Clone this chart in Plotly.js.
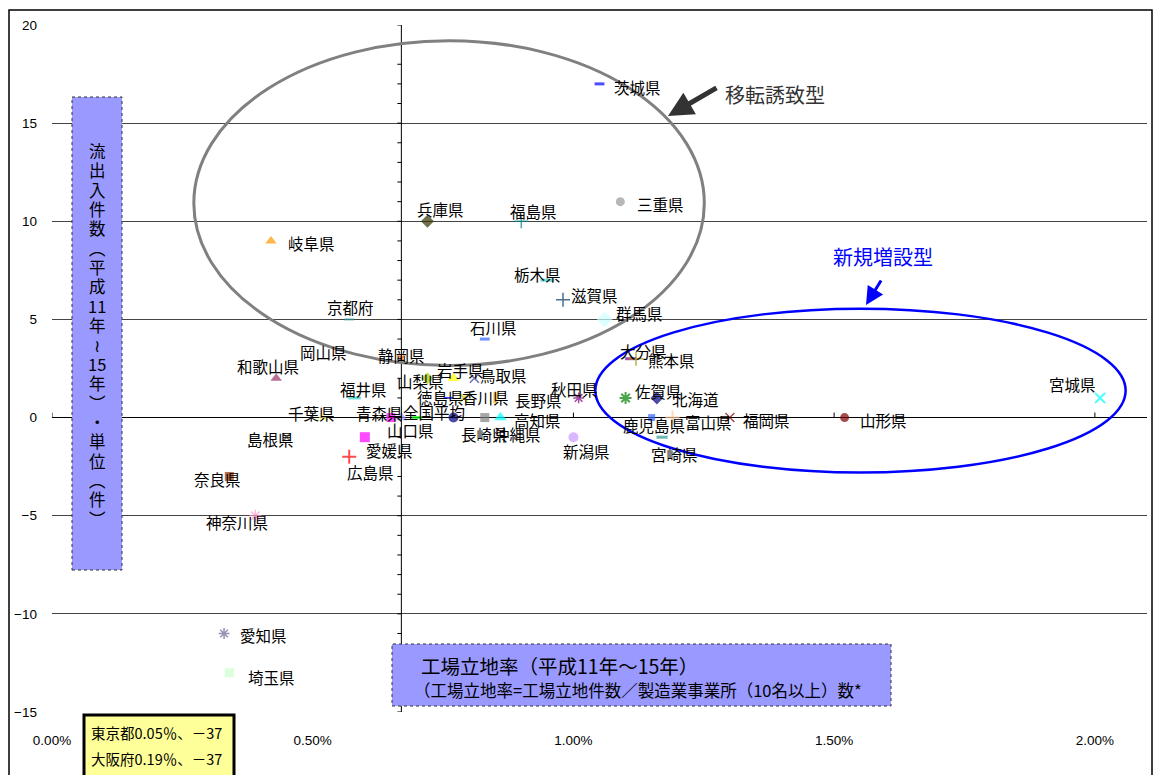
<!DOCTYPE html>
<html>
<head>
<meta charset="utf-8">
<script src="https://cdn.plot.ly/plotly-3.0.1.min.js"></script>
<style>
  html, body { margin: 0; padding: 0; background: #ffffff; }
  #chart { width: 1157px; height: 775px; }
</style>
</head>
<body>
<div id="chart"></div>
<script>
// 都道府県別 工場立地率(%) と 流出入件数(件)  平成11年～15年
const prefectures = [
  '茨城県', '三重県', '兵庫県', '福島県', '岐阜県', '栃木県', '滋賀県', '群馬県',
  '京都府', '石川県', '大分県', '熊本県', '岡山県', '静岡県', '和歌山県', '山梨県',
  '岩手県', '鳥取県', '福井県', '徳島県', '香川県', '長野県', '秋田県', '佐賀県',
  '北海道', '宮城県', '千葉県', '青森県', '全国平均', '山口県', '長崎県', '沖縄県',
  '高知県', '新潟県', '鹿児島県', '富山県', '福岡県', '山形県', '宮崎県', '愛媛県',
  '島根県', '広島県', '奈良県', '神奈川県', '愛知県', '埼玉県', '東京都', '大阪府'
];
// 工場立地率 (%)
const siteRate = [
  1.05, 1.09, 0.72, 0.90, 0.42, 0.95, 0.98, 1.06,
  0.57, 0.83, 1.11, 1.12, 0.52, 0.67, 0.43, 0.72,
  0.77, 0.81, 0.58, 0.76, 0.79, 0.85, 1.01, 1.10,
  1.16, 2.01, 0.52, 0.65, 0.67, 0.70, 0.77, 0.83,
  0.86, 1.00, 1.15, 1.19, 1.30, 1.52, 1.17, 0.60,
  0.45, 0.57, 0.34, 0.39, 0.33, 0.34, 0.05, 0.19
];
// 流出入件数 (件)
const netFlow = [
  17, 11, 10, 10, 9, 7, 6, 5,
  5, 4, 3, 3, 3, 3, 2, 2,
  2, 2, 1, 1, 1, 1, 1, 1,
  1, 1, 0, 0, 0, 0, 0, 0,
  0, -1, 0, 0, 0, 0, -1, -1,
  -1, -2, -3, -5, -11, -13, -37, -37
];
// 範囲外の二都府は注記ボックスに記載
const offChart = ['東京都', '大阪府'];
const averageName = '全国平均';

const yTicks = [-15, -10, -5, 0, 5, 10, 15, 20];
const xTicks = [0, 0.5, 1.0, 1.5, 2.0];
const xTickText = xTicks.map(t => t.toFixed(2) + '%');

// marker style: [symbol, color, size, line width]
const markerStyle = {
  '茨城県': ['line-ew', '#0000ff', 7, 3],
  '三重県': ['circle', '#999999', 9, 0],
  '兵庫県': ['diamond', '#333300', 10, 0],
  '福島県': ['cross-thin', '#008080', 10, 1.5],
  '岐阜県': ['triangle-up', '#ff9900', 10, 0],
  '栃木県': ['line-ew', '#33cccc', 10, 3],
  '滋賀県': ['cross-thin', '#003366', 10, 1.5],
  '群馬県': ['diamond', '#ccffff', 12, 0],
  '京都府': ['line-ew', '#339999', 7, 2],
  '石川県': ['line-ew', '#3366ff', 7, 3],
  '大分県': ['line-ew', '#800080', 8, 3],
  '熊本県': ['cross-thin', '#999900', 10, 1.5],
  '岡山県': ['circle', '#ffffff', 6, 0],
  '静岡県': ['x-thin', '#ff6600', 8, 2],
  '和歌山県': ['triangle-up', '#993366', 10, 0],
  '山梨県': ['diamond', '#99cc00', 9, 0],
  '岩手県': ['triangle-up', '#ffff00', 11, 0],
  '鳥取県': ['x-thin', '#333399', 9, 1.5],
  '福井県': ['line-ew', '#33cccc', 9, 3],
  '徳島県': ['line-ew', '#0000ff', 7, 2],
  '香川県': ['x-thin', '#c8c800', 8, 2],
  '長野県': ['line-ns', '#ffcc00', 8, 4],
  '秋田県': ['asterisk', '#800080', 9, 1.5],
  '佐賀県': ['asterisk', '#008000', 10, 2],
  '北海道': ['diamond', '#000080', 10, 0],
  '宮城県': ['x-thin', '#00ffff', 10, 2],
  '千葉県': ['triangle-up', '#ffff99', 11, 0],
  '青森県': ['square', '#ff00ff', 9, 0],
  '全国平均': ['triangle-up', '#9999ff', 11, 0],
  '山口県': ['line-ew', '#00ff00', 7, 3],
  '長崎県': ['circle', '#000080', 10, 0],
  '沖縄県': ['square', '#808080', 9, 0],
  '高知県': ['triangle-up', '#00ffff', 11, 0],
  '新潟県': ['circle', '#cc99ff', 10, 0],
  '鹿児島県': ['square', '#3366ff', 7, 0],
  '富山県': ['cross-thin', '#ffcc99', 10, 2],
  '福岡県': ['x-thin', '#800000', 9, 1.5],
  '山形県': ['circle', '#800000', 9, 0],
  '宮崎県': ['line-ew', '#339999', 8, 3],
  '愛媛県': ['square', '#ff00ff', 10, 0],
  '島根県': ['x-thin', '#333333', 8, 1.5],
  '広島県': ['cross-thin', '#ff0000', 10, 2],
  '奈良県': ['square', '#993300', 9, 0],
  '神奈川県': ['asterisk', '#ff99cc', 10, 1.5],
  '愛知県': ['asterisk', '#666699', 9, 1.5],
  '埼玉県': ['square', '#ccffcc', 9, 0],
  '東京都': ['square', '#000000', 8, 0],
  '大阪府': ['square', '#000000', 8, 0]
};

// data label offset from its point, pixels [right, down]
const labelOffset = {
  '茨城県': [38, 3], '三重県': [40, 2], '兵庫県': [13, -12], '福島県': [12, -10],
  '岐阜県': [40, 2], '栃木県': [-10, -6], '滋賀県': [31, -5], '群馬県': [35, -6],
  '京都府': [1, -12], '石川県': [9, -12], '大分県': [13, -8], '熊本県': [35, 1],
  '岡山県': [0, -7], '静岡県': [0, -4], '和歌山県': [-8, -12], '山梨県': [-7, 3],
  '岩手県': [7, -8], '鳥取県': [29, -3], '福井県': [9, -9], '徳島県': [-8, -1],
  '香川県': [22, -1], '長野県': [43, 2], '秋田県': [-4, -9], '佐賀県': [33, -7],
  '北海道': [39, 1], '宮城県': [-28, -14], '千葉県': [-12, -5], '青森県': [-11, -5],
  '全国平均': [33, -6], '山口県': [-7, 12], '長崎県': [31, 16], '沖縄県': [33, 16],
  '高知県': [37, 2], '新潟県': [13, 14], '鹿児島県': [2, 7], '富山県': [36, 4],
  '福岡県': [37, 2], '山形県': [39, 2], '宮崎県': [12, 17], '愛媛県': [25, 13],
  '島根県': [-16, 2], '広島県': [21, 15], '奈良県': [-12, 3], '神奈川県': [-18, 6],
  '愛知県': [39, 2], '埼玉県': [42, 4]
};

// ---- page geometry helpers (pixels -> paper fractions) ----
const W = 1157, H = 775;
const M = { l: 52, r: 10, t: 25, b: 63 };
const plotW = W - M.l - M.r, plotH = H - M.t - M.b;
const px = v => (v - M.l) / plotW;
const py = v => (H - M.b - v) / plotH;

const JP = '"Noto Sans CJK JP", "Noto Sans", sans-serif';
const NUM = 'Arial, "Liberation Sans", sans-serif';

// ---- scatter trace ----
const sym = prefectures.map(n => markerStyle[n][0]);
const col = prefectures.map(n => markerStyle[n][1]);
const siz = prefectures.map(n => markerStyle[n][2]);
const lw = prefectures.map(n => markerStyle[n][3]);

const trace = {
  type: 'scatter',
  mode: 'markers',
  x: siteRate,
  y: netFlow,
  text: prefectures,
  cliponaxis: true,
  hoverinfo: 'text+x+y',
  marker: {
    symbol: sym,
    color: col,
    size: siz,
    line: { color: col, width: lw }
  },
  showlegend: false
};

// ---- data labels ----
const annotations = [];
prefectures.forEach((name, i) => {
  if (offChart.includes(name)) return;
  const off = labelOffset[name] || [30, 0];
  annotations.push({
    xref: 'x', yref: 'y', x: siteRate[i], y: netFlow[i],
    text: name, showarrow: false,
    xshift: off[0], yshift: -off[1],
    xanchor: 'center', yanchor: 'middle',
    font: { family: JP, size: 15.5, color: '#000000' }
  });
});

// vertical axis crosses at the national average rate
const avgIdx = prefectures.indexOf(averageName);
const axisCross = siteRate[avgIdx];

const shapes = [];

// outer chart frame
shapes.push({ type: 'rect', xref: 'paper', yref: 'paper', x0: px(9), x1: px(1152), y0: py(10), y1: py(800),
  line: { color: '#000000', width: 1.5 }, fillcolor: 'rgba(0,0,0,0)', layer: 'below' });

// vertical axis line and its ticks
shapes.push({ type: 'line', xref: 'x', yref: 'paper', x0: axisCross, x1: axisCross, y0: 0, y1: 1,
  line: { color: '#000000', width: 1 }, layer: 'above' });
for (let v = yTicks[0]; v <= yTicks[yTicks.length - 1]; v++) {
  shapes.push({ type: 'line', xref: 'x', yref: 'y', xsizemode: 'pixel', xanchor: axisCross,
    x0: -4, x1: 0, y0: v, y1: v, line: { color: '#000000', width: 1 } });
}
// ticks on the horizontal axis (y = 0)
xTicks.forEach(t => {
  shapes.push({ type: 'line', xref: 'x', yref: 'y', ysizemode: 'pixel', yanchor: 0,
    x0: t, x1: t, y0: 0, y1: 5, line: { color: '#000000', width: 1 } });
});

// grouping ellipses
shapes.push({ type: 'circle', xref: 'x', yref: 'y', x0: 0.272, x1: 1.251, y0: 2.65, y1: 19.2,
  line: { color: '#808080', width: 3 }, fillcolor: 'rgba(0,0,0,0)', layer: 'above' });
shapes.push({ type: 'circle', xref: 'x', yref: 'y', x0: 1.042, x1: 2.059, y0: -2.8, y1: 5.55,
  line: { color: '#0000ff', width: 2.5 }, fillcolor: 'rgba(0,0,0,0)', layer: 'above' });

// axis title boxes
shapes.push({ type: 'rect', xref: 'paper', yref: 'paper', x0: px(72), x1: px(122), y0: py(570), y1: py(97),
  fillcolor: '#9999ff', line: { color: '#333333', width: 1, dash: 'dot' }, layer: 'above' });
shapes.push({ type: 'rect', xref: 'paper', yref: 'paper', x0: px(392), x1: px(891), y0: py(706), y1: py(644),
  fillcolor: '#9999ff', line: { color: '#333333', width: 1, dash: 'dot' }, layer: 'above' });
// note box for off-range prefectures
shapes.push({ type: 'rect', xref: 'paper', yref: 'paper', x0: px(84), x1: px(234), y0: py(790), y1: py(715),
  fillcolor: '#ffff99', line: { color: '#000000', width: 3 }, layer: 'above' });

// vertical y-axis title, one glyph per row
const yTitleGlyphs = ['流', '出', '入', '件', '数', '︵', '平', '成', '11', '年', '≀', '15', '年', '︶', '・', '単', '位', '︵', '件', '︶'];
yTitleGlyphs.forEach((g, i) => {
  annotations.push({
    xref: 'paper', yref: 'paper', x: px(97), y: py(151 + i * 19.35),
    text: g, showarrow: false, xanchor: 'center', yanchor: 'middle',
    font: { family: JP, size: 16.5, color: '#000000' }
  });
});

// x-axis title
annotations.push({
  xref: 'paper', yref: 'paper', x: px(419), y: py(665), xanchor: 'left', yanchor: 'middle',
  text: '工場立地率（平成11年～15年）', showarrow: false,
  font: { family: JP, size: 19.5, color: '#000000' }
});
annotations.push({
  xref: 'paper', yref: 'paper', x: px(412), y: py(690), xanchor: 'left', yanchor: 'middle',
  text: '（工場立地率=工場立地件数／製造業事業所（10名以上）数*', showarrow: false,
  font: { family: JP, size: 16.5, color: '#000000' }
});

// note box text for prefectures outside the plotted range
offChart.forEach((name, k) => {
  const i = prefectures.indexOf(name);
  const v = netFlow[i];
  annotations.push({
    xref: 'paper', yref: 'paper', x: px(89), y: py(732 + k * 27), xanchor: 'left', yanchor: 'middle',
    text: name + siteRate[i].toFixed(2) + '％、' + (v < 0 ? '－' : '') + Math.abs(v), showarrow: false,
    font: { family: JP, size: 14.5, color: '#000000' }
  });
});

// group captions with arrows
annotations.push({
  xref: 'paper', yref: 'paper', x: px(775), y: py(78), text: '移転誘致型', showarrow: false,
  font: { family: JP, size: 20, color: '#333333' }
});
annotations.push({
  xref: 'paper', yref: 'paper', x: px(668), y: py(116), ax: 50, ay: -29, text: '',
  showarrow: true, arrowhead: 2, arrowsize: 1, arrowwidth: 5, arrowcolor: '#333333'
});
annotations.push({
  xref: 'paper', yref: 'paper', x: px(935), y: py(256), text: '新規増設型', showarrow: false,
  font: { family: JP, size: 20, color: '#0000ff' }
});
annotations.push({
  xref: 'paper', yref: 'paper', x: px(866), y: py(305), ax: 16, ay: -26, text: '',
  showarrow: true, arrowhead: 2, arrowsize: 1.2, arrowwidth: 3, arrowcolor: '#0000ff'
});

const layout = {
  width: W, height: H,
  margin: M,
  paper_bgcolor: '#ffffff',
  plot_bgcolor: '#ffffff',
  showlegend: false,
  xaxis: {
    range: [0, 2.1],
    tickmode: 'array',
    tickvals: xTicks,
    ticktext: xTickText,
    showgrid: false,
    zeroline: false,
    showline: false,
    ticks: '',
    ticklabelstandoff: 18,
    tickfont: { family: NUM, size: 13.5, color: '#000000' },
    fixedrange: true
  },
  yaxis: {
    range: [-15, 20],
    tickvals: yTicks,
    showgrid: true,
    gridcolor: '#444444',
    gridwidth: 1,
    zeroline: true,
    zerolinecolor: '#000000',
    zerolinewidth: 1.5,
    showline: false,
    ticks: '',
    ticklabelstandoff: 14,
    tickfont: { family: NUM, size: 13.5, color: '#000000' },
    fixedrange: true
  },
  shapes: shapes,
  annotations: annotations,
  font: { family: JP }
};

Plotly.newPlot('chart', [trace], layout, { displayModeBar: false, staticPlot: true });
</script>
</body>
</html>
